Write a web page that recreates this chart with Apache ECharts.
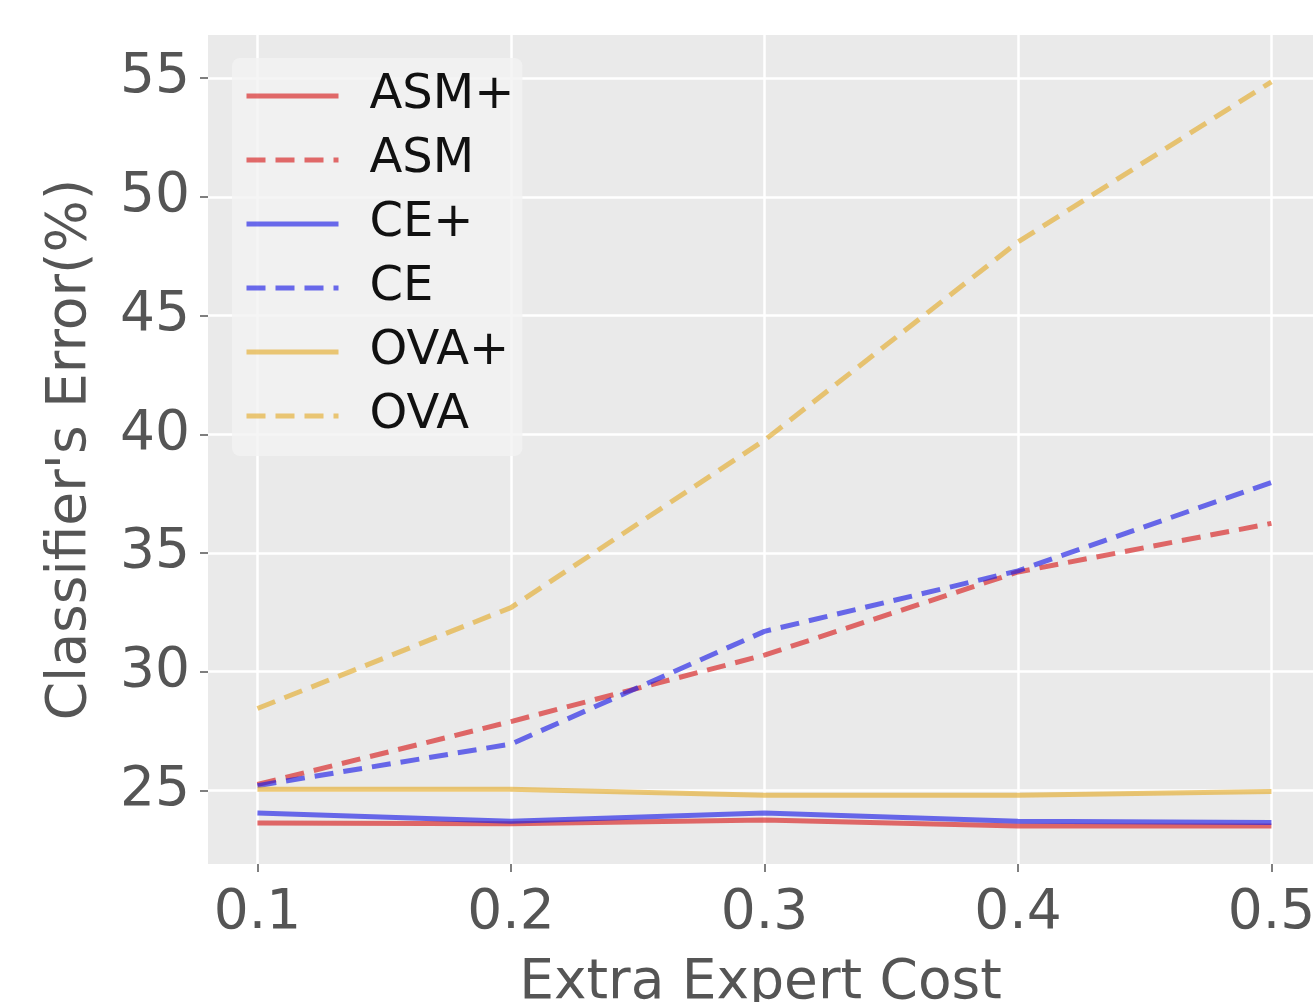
<!DOCTYPE html>
<html><head><meta charset="utf-8">
<script src="https://cdn.jsdelivr.net/npm/echarts@6/dist/echarts.min.js"></script>
<style>html,body{margin:0;padding:0;background:#fff}#c{width:1313px;height:1002px}</style>
</head><body><div id="c"></div>
<script>
const costs = [0.1, 0.2, 0.3, 0.4, 0.5];
const xTicks = [0.1, 0.2, 0.3, 0.4, 0.5];
const yTicks = [25, 30, 35, 40, 45, 50, 55];
const asmPlus = [23.63, 23.6, 23.75, 23.5, 23.5];
const asm = [25.25, 27.9, 30.7, 34.2, 36.25];
const cePlus = [24.05, 23.7, 24.05, 23.7, 23.65];
const ce = [25.2, 26.95, 31.7, 34.25, 37.97];
const ovaPlus = [25.05, 25.05, 24.8, 24.8, 24.95];
const ova = [28.45, 32.7, 39.75, 48.1, 54.85];

const RED = 'rgba(215,30,30,0.65)';
const BLUE = 'rgba(30,30,230,0.65)';
const GOLD = 'rgba(228,175,55,0.68)';
const FONT = 'DejaVu Sans';

function mk(name, vals, color, dashed) {
  return {
    name: name, type: 'line', symbol: 'none', showSymbol: false,
    data: costs.map((c, i) => [c, vals[i]]),
    lineStyle: { color: color, width: 5, type: dashed ? [19, 10] : 'solid' },
    itemStyle: { color: color },
    emphasis: { disabled: true }
  };
}

const chart = echarts.init(document.getElementById('c'));
chart.setOption({
  animation: false,
  backgroundColor: '#fff',
  grid: { left: 208, right: 0, top: 35, bottom: 138, show: true, backgroundColor: '#EAEAEA', borderWidth: 0,
          containLabel: false, outerBoundsMode: 'none' },
  xAxis: {
    type: 'value', min: 0.0805, max: 0.5164,
    name: 'Extra Expert Cost', nameLocation: 'middle', nameGap: 92,
    nameTextStyle: { fontFamily: FONT, fontSize: 55, color: '#555' },
    axisLine: { show: false },
    axisTick: { show: true, length: 8, lineStyle: { color: '#555', width: 1.5 }, customValues: xTicks },
    axisLabel: { fontFamily: FONT, fontSize: 55, color: '#555', margin: 22, customValues: xTicks, formatter: v => v.toFixed(1) },
    splitLine: { show: true, lineStyle: { color: '#fff', width: 2.5 } }
  },
  yAxis: {
    type: 'value', min: 21.9, max: 56.82,
    name: "Classifier's Error(%)", nameLocation: 'middle', nameGap: 110,
    nameTextStyle: { fontFamily: FONT, fontSize: 55, color: '#555' },
    axisLine: { show: false },
    axisTick: { show: true, length: 8, lineStyle: { color: '#555', width: 1.5 }, customValues: yTicks },
    axisLabel: { fontFamily: FONT, fontSize: 55, color: '#555', margin: 18, customValues: yTicks },
    splitLine: { show: true, lineStyle: { color: '#fff', width: 2.5 } }
  },
  legend: {
    orient: 'vertical', left: 232, top: 58,
    itemWidth: 92, itemHeight: 20, itemGap: 16,
    backgroundColor: 'rgba(242,242,242,0.8)', borderRadius: 8,
    padding: [14, 8, 16, 12],
    itemStyle: { opacity: 0 },
    lineStyle: { width: 5 },
    textStyle: { fontFamily: FONT, fontSize: 48, color: '#111', padding: [0, 0, 0, 26] },
    data: ['ASM+', 'ASM', 'CE+', 'CE', 'OVA+', 'OVA']
  },
  series: [
    mk('ASM+', asmPlus, RED, false),
    mk('ASM', asm, RED, true),
    mk('CE+', cePlus, BLUE, false),
    mk('CE', ce, BLUE, true),
    mk('OVA+', ovaPlus, GOLD, false),
    mk('OVA', ova, GOLD, true)
  ]
});
</script></body></html>
